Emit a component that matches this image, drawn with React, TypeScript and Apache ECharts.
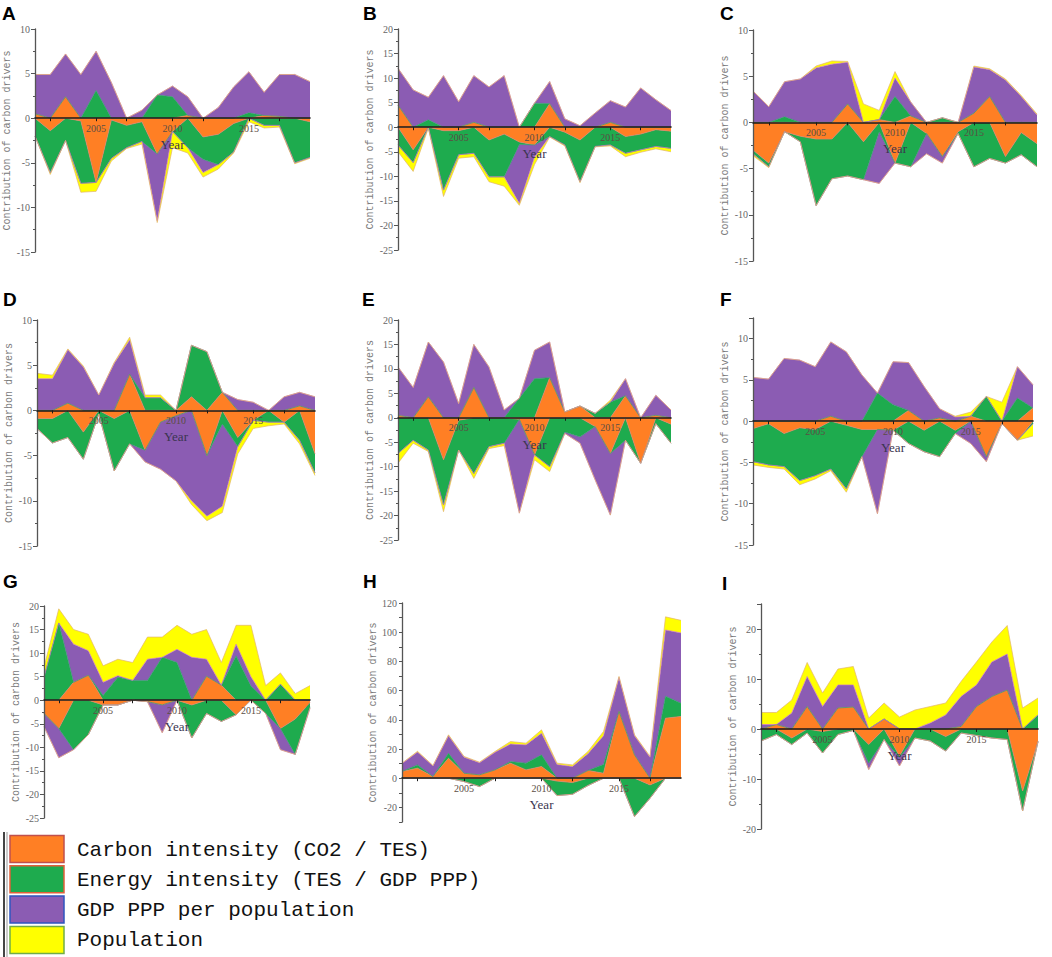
import React, { useEffect, useRef } from "react";
import * as echarts from "echarts";

// ---------- data ----------
const years = [
  "2001", "2002", "2003", "2004", "2005", "2006", "2007", "2008", "2009", "2010",
  "2011", "2012", "2013", "2014", "2015", "2016", "2017", "2018", "2019",
];
const yearLabels = ["2005", "2010", "2015"];
const seriesNames = [
  "Carbon intensity (CO2 / TES)",
  "Energy intensity (TES / GDP PPP)",
  "GDP PPP per population",
  "Population",
];
const panelLetters = ["A", "B", "C", "D", "E", "F", "G", "H", "I"];

// A
const aCarbon = [0.5, -1.4, 2.4, -0.3, -7.2, -0.2, -0.8, -0.4, -4.0, -1.5, 0.3, -2.1, -1.8, -0.6, 0, 0.3, 0.2, 0, -0.4];
const aEnergy = [-2.0, -4.7, -2.5, -7.0, 3.1, -4.3, -2.5, -2.2, 2.6, 2.4, -3.3, -2.5, -3.4, -3.2, 0.6, -0.8, -0.8, -5.0, -4.0];
const aGdp = [4.4, 4.9, 4.8, 4.9, 4.4, 4.0, 0, 0.9, -7.5, 1.2, 2.1, -1.5, 1.2, 3.5, 4.6, 2.6, 4.7, 4.9, 4.1];
const aPopulation = [0, -0.2, 0, -1.0, -1.0, -0.3, -0.1, -0.3, -0.2, -1.8, -0.6, -0.5, -0.5, -0.1, -0.4, -0.3, -0.2, -0.1, -0.1];
// B
const bCarbon = [4.5, -4.6, 0, -0.7, -0.7, 1.0, -2.6, -1.4, -3.0, -3.6, 4.8, -1.0, -2.6, 0, 1.0, -1.9, -1.4, -0.5, -0.8];
const bEnergy = [-3.6, -2.6, 1.5, -12.1, -4.9, -5.3, -7.5, -8.7, -0.5, 4.9, -1.9, -2.6, -8.5, -3.9, -3.6, -3.4, -3.2, -3.4, -3.5];
const bGdp = [7.5, 7.6, 4.6, 10.5, 5.2, 9.5, 8.2, 10.5, -12.0, -2.5, 4.5, 1.7, 0.3, 2.9, 4.4, 4.1, 8.0, 5.6, 3.4];
const bPopulation = [-1.4, -1.8, -0.2, -1.3, -0.7, -0.7, -1.0, -1.9, -0.4, -1.5, -0.1, -0.2, -0.2, -0.1, -0.2, -0.7, -0.5, -0.5, -0.7];
// C
const cCarbon = [-3.0, -4.4, -1.0, -1.5, -1.8, -1.8, 2.0, -2.1, 0.3, -4.4, 0.7, -1.2, -3.7, -1.0, 1.0, 2.8, -3.7, -1.1, -2.3];
const cEnergy = [-0.4, -0.4, 0.6, -0.6, -7.2, -4.3, -5.8, -4.1, -1.0, 2.8, -4.8, 0, 0.5, -0.2, -4.8, -3.9, -0.7, -2.4, -2.5];
const cGdp = [3.4, 1.7, 3.8, 4.7, 5.9, 6.3, 4.5, 0, -5.6, 2.0, 1.5, -2.2, -0.7, 0, 5.0, 2.9, 4.6, 2.8, 0.8];
const cPopulation = [-0.2, -0.1, 0, 0, 0.2, 0.35, 0.1, 2.0, 1.0, 0.7, 0, 0, 0, 0, 0.1, 0.1, 0.1, 0.1, 0.1];
// D
const dCarbon = [-0.9, -0.9, 0.8, -2.4, 0, -0.9, 4.0, -4.4, -1.3, -0.6, 1.5, -5.0, 2.0, -3.0, -1.1, 0, -1.3, 0.5, -4.8];
const dEnergy = [-1.1, -2.7, -3.0, -3.0, -0.4, -5.8, -3.7, 1.4, 1.4, 0, 5.7, 6.5, -1.5, -1.0, 0, -1.3, 0, -3.3, -2.1];
const dGdp = [3.5, 3.5, 5.9, 4.8, 1.7, 5.2, 3.8, -1.3, -5.2, -7.2, -10.0, -6.7, -9.1, 1.2, 0.9, 0, 1.5, 1.5, 1.5];
const dPopulation = [0.6, 0.4, 0.1, 0.1, 0, 0.1, 0.3, 0.3, 0.3, 0, -0.4, -0.5, -0.7, -0.8, -0.9, -0.4, -0.2, -0.4, -0.3];
// E
const eCarbon = [0.5, 0, 4.3, -8.6, -0.5, 6.2, 0, 0, -0.3, -7.6, 8.2, 1.2, 2.4, -1.8, -7.3, 4.5, -9.3, 0.5, -1.3];
const eEnergy = [-7.3, -4.6, -6.6, -9.2, -6.1, -11.4, -5.9, -5.2, 4.0, 8.0, -10.0, -2.9, -3.9, 0.9, 3.2, -4.6, 0, -1.2, -3.9];
const eGdp = [9.9, 6.2, 11.2, 11.4, 2.9, 8.8, 10.4, 1.6, -19.2, 5.8, 7.3, -0.3, -1.3, -10.9, -12.6, 3.5, 0, 4.1, 1.6];
const ePopulation = [-2.0, -0.6, -0.3, -1.4, 0, -1.0, -0.4, -0.5, 0, -1.0, -1.0, 0, 0, 0, 0.4, 0, 0, 0, 0];
// F
const fCarbon = [-0.9, -0.3, -1.5, -0.8, -1.0, 0.6, -0.5, -1.0, -1.0, -1.1, 1.3, -1.1, 0.4, -1.1, 0.6, -4.3, -0.3, -2.3, 1.6];
const fEnergy = [-4.0, -5.0, -4.0, -6.4, -5.6, -5.8, -7.7, -3.3, 3.4, 2.0, -2.7, -2.6, -4.3, -0.4, 0, 3.0, 0, 2.8, -0.3];
const fGdp = [5.3, 5.1, 7.6, 7.4, 6.6, 9.0, 8.4, 5.6, -10.2, 5.2, 5.8, 4.2, 1.1, 0.5, -2.7, -0.6, 0, 3.8, 2.8];
const fPopulation = [-0.4, -0.3, -0.3, -0.5, -0.4, -0.2, -0.4, 0, 0, 0, 0, 0, 0, 0.1, 0.5, 0, 2.3, 0, -1.5];
// G
const gCarbon = [-2.8, -6.0, 3.8, 5.3, -1.0, -1.0, 0, -0.3, -1.0, 0, -1.0, 5.1, 3.2, -3.1, 0, 0, -6.0, -4.0, -0.5];
const gEnergy = [4.9, 16.4, -10.5, -7.3, 1.0, 4.9, 4.2, 4.2, 9.1, 8.0, -7.0, -2.8, -4.5, 9.4, 3.0, -2.8, 3.4, -7.5, -0.9];
const gGdp = [-2.8, -6.2, 8.1, 5.2, 2.8, 0.3, 0, 4.5, -5.9, 2.8, 9.1, 3.6, 0, 2.5, 2.0, 0, -4.5, 0, -0.3];
const gPopulation = [2.1, 3.0, 3.1, 3.5, 3.5, 3.5, 3.8, 4.7, 4.3, 5.1, 4.9, 6.3, 4.8, 4.0, 10.9, 3.1, 2.4, 1.4, 3.1];
// H
const hCarbon = [4.6, 6.9, 1.1, 13.7, 3.4, 2.3, 5.7, 10.3, 5.7, 8.0, -2.0, -3.0, 5.3, 3.4, 45.7, 16.0, -4.6, 41.1, 42.3];
const hEnergy = [0, 2.2, 0, 3.4, -2.3, -5.7, 0, 1.1, 4.6, 8.0, -9.9, -8.0, -5.0, 6.0, 0, -26.3, -9.1, 15.0, 9.1];
const hGdp = [5.4, 8.8, 7.3, 12.0, 11.0, 8.3, 12.0, 12.0, 12.5, 14.8, 9.3, 8.0, 11.5, 19.6, 23.3, 13.0, 14.3, 45.4, 48.1];
const hPopulation = [0.3, 0.5, 0.3, 0.6, 0.5, 0.4, 0.6, 1.7, 1.2, 2.3, 1.0, 1.1, 1.5, 3.0, 0.7, 0.7, 0.6, 9.0, 8.6];
// I
const iCarbon = [0, 0.9, -1.8, 4.5, -0.5, 4.2, 4.4, -3.1, 2.0, -5.4, 0, 0, -1.5, 0.5, 4.5, 6.5, 7.8, -12.4, -2.5];
const iEnergy = [-2.4, -1.1, -1.3, -0.8, -4.3, -1.1, -0.3, -3.7, -2.1, -0.3, -1.8, -2.4, -2.9, -0.8, -1.3, -1.8, -2.1, -4.0, 2.8];
const iGdp = [0.9, 0, 3.2, 6.0, 4.5, 4.6, 4.4, -1.3, 0, -1.7, 0, 1.2, 2.8, 6.0, 4.3, 6.9, 7.2, 0, 0];
const iPopulation = [2.4, 2.4, 2.6, 2.8, 2.7, 3.2, 3.7, 2.2, 3.2, 2.4, 3.8, 3.3, 2.4, 3.0, 4.6, 4.0, 5.7, 4.2, 3.4];

// y ranges [min, max, interval]
const yRanges = [
  [-15, 10, 5], [-25, 20, 5], [-15, 10, 5],
  [-15, 10, 5], [-25, 20, 5], [-15, 12.5, 5],
  [-25, 20, 5], [-30, 120, 10], [-20, 25, 10],
];

const panelData = [
  [aCarbon, aEnergy, aGdp, aPopulation],
  [bCarbon, bEnergy, bGdp, bPopulation],
  [cCarbon, cEnergy, cGdp, cPopulation],
  [dCarbon, dEnergy, dGdp, dPopulation],
  [eCarbon, eEnergy, eGdp, ePopulation],
  [fCarbon, fEnergy, fGdp, fPopulation],
  [gCarbon, gEnergy, gGdp, gPopulation],
  [hCarbon, hEnergy, hGdp, hPopulation],
  [iCarbon, iEnergy, iGdp, iPopulation],
];

// ---------- layout / style ----------
const grids = [
  { left: 35, top: 29, width: 275, height: 223 },
  { left: 398, top: 29, width: 273, height: 221 },
  { left: 753, top: 30, width: 284, height: 231 },
  { left: 37, top: 320, width: 278, height: 226 },
  { left: 398, top: 320, width: 273, height: 220 },
  { left: 753, top: 318, width: 280, height: 227 },
  { left: 44, top: 606, width: 266, height: 212 },
  { left: 402, top: 603, width: 279, height: 219 },
  { left: 761, top: 604, width: 277, height: 225 },
];
const letterPos = [
  [2, 4], [363, 4], [720, 4],
  [3, 290], [362, 290], [720, 290],
  [3, 572], [363, 572], [722, 574],
];
const fills = ["#FF7F24", "#1EAB4E", "#8B5CB3", "#FFFF00"];
const edges = ["#F07A6A", "#2E9E6A", "#C46BD0", "#E2B56E"];
const swatchBorders = ["#C0504D", "#E0603A", "#2F55C0", "#70AD47"];

function buildOption() {
  const xAxis: any[] = [];
  const yAxis: any[] = [];
  const series: any[] = [];
  const gridOpts: any[] = [];

  grids.forEach((g, i) => {
    const [mn, mx, iv] = yRanges[i];
    // distance from the bottom of the plot to the zero line
    const zeroOffset = (g.height * (0 - mn)) / (mx - mn);
    gridOpts.push({ ...g, containLabel: false, outerBoundsMode: "none" });
    xAxis.push({
      type: "category",
      gridIndex: i,
      data: years,
      boundaryGap: false,
      position: "bottom",
      offset: -zeroOffset,
      z: 5,
      axisLine: { show: true, onZero: false, lineStyle: { color: "#1a1a1a", width: 1.6 } },
      axisTick: {
        show: true,
        length: 3,
        interval: (idx: number) => idx % 5 === 4 || idx % 5 === 1,
        lineStyle: { color: "#1a1a1a" },
      },
      axisLabel: {
        interval: (_idx: number, val: string) => yearLabels.includes(val),
        fontFamily: "Liberation Serif",
        fontSize: 10,
        color: "#5b4e44",
        margin: 5,
      },
      splitLine: { show: false },
      name: "Year",
      nameLocation: "middle",
      nameGap: 20,
      nameTextStyle: { fontFamily: "Liberation Serif", fontSize: 13, color: "#3a3550" },
    });
    const isH = i === 7;
    yAxis.push({
      type: "value",
      gridIndex: i,
      min: mn,
      max: mx,
      interval: iv,
      z: 5,
      axisLine: { show: true, onZero: false, lineStyle: { color: "#555", width: 1.3 } },
      axisTick: { show: true, length: isH ? 3 : 4, lineStyle: { color: "#555" } },
      minorTick: { show: !isH, splitNumber: 2, length: 2, lineStyle: { color: "#555" } },
      splitLine: { show: false },
      axisLabel: {
        fontFamily: "Liberation Serif",
        fontSize: 10,
        color: "#666",
        margin: 5,
        showMaxLabel: mx % iv === 0,
        formatter: isH ? (v: number) => (v % 20 === 0 ? String(v) : "") : undefined,
      },
      name: "Contribution of carbon drivers",
      nameLocation: "middle",
      nameGap: 22,
      nameTextStyle: { fontFamily: "Liberation Mono", fontSize: 10, color: "#7a7a7a" },
    });

    panelData[i].forEach((vals, k) => {
      const pos = vals.map((v) => (v > 0 ? v : 0));
      const neg = vals.map((v) => (v < 0 ? v : 0));
      [pos, neg].forEach((arr, s) => {
        series.push({
          type: "line",
          name: seriesNames[k],
          xAxisIndex: i,
          yAxisIndex: i,
          stack: `panel${i}_${s === 0 ? "pos" : "neg"}`,
          stackStrategy: "all",
          data: arr,
          symbol: "none",
          showSymbol: false,
          lineStyle: { width: 0.7, color: edges[k] },
          itemStyle: { color: fills[k] },
          areaStyle: { color: fills[k], opacity: 1 },
          emphasis: { disabled: true },
          z: 2,
        });
      });
    });
  });

  const graphic: any[] = [];
  panelLetters.forEach((L, i) => {
    graphic.push({
      type: "text",
      x: letterPos[i][0],
      y: letterPos[i][1],
      style: {
        text: L,
        font: 'bold 19px "Liberation Sans"',
        fill: "#000",
        verticalAlign: "top",
      },
    });
  });
  graphic.push({
    type: "text",
    x: 287,
    y: 700,
    style: {
      text: "(i)",
      font: '24px "Liberation Serif"',
      fill: "#111",
      verticalAlign: "middle",
    },
  });
  // legend
  graphic.push({
    type: "line",
    shape: { x1: 4, y1: 832, x2: 4, y2: 957 },
    style: { stroke: "#444", lineWidth: 2 },
  });
  graphic.push({
    type: "line",
    shape: { x1: 7, y1: 832, x2: 7, y2: 957 },
    style: { stroke: "#999", lineWidth: 1 },
  });
  seriesNames.forEach((name, k) => {
    const cy = 849 + k * 30.3;
    graphic.push({
      type: "rect",
      shape: { x: 10, y: cy - 13.5, width: 54, height: 27 },
      style: { fill: fills[k], stroke: swatchBorders[k], lineWidth: 1.5 },
    });
    graphic.push({
      type: "text",
      x: 77,
      y: cy + 1,
      style: {
        text: name,
        font: '21px "Liberation Mono"',
        fill: "#111",
        verticalAlign: "middle",
      },
    });
  });

  return {
    animation: false,
    backgroundColor: "#ffffff",
    grid: gridOpts,
    xAxis,
    yAxis,
    series,
    graphic,
  };
}

export default function App() {
  const ref = useRef<HTMLDivElement>(null);
  useEffect(() => {
    if (!ref.current) return;
    const chart = echarts.init(ref.current, undefined, { renderer: "svg" });
    chart.setOption(buildOption() as any);
    return () => chart.dispose();
  }, []);
  return (
    <div
      ref={ref}
      style={{ position: "fixed", left: 0, top: 0, width: 1052, height: 957, background: "#fff" }}
    />
  );
}
